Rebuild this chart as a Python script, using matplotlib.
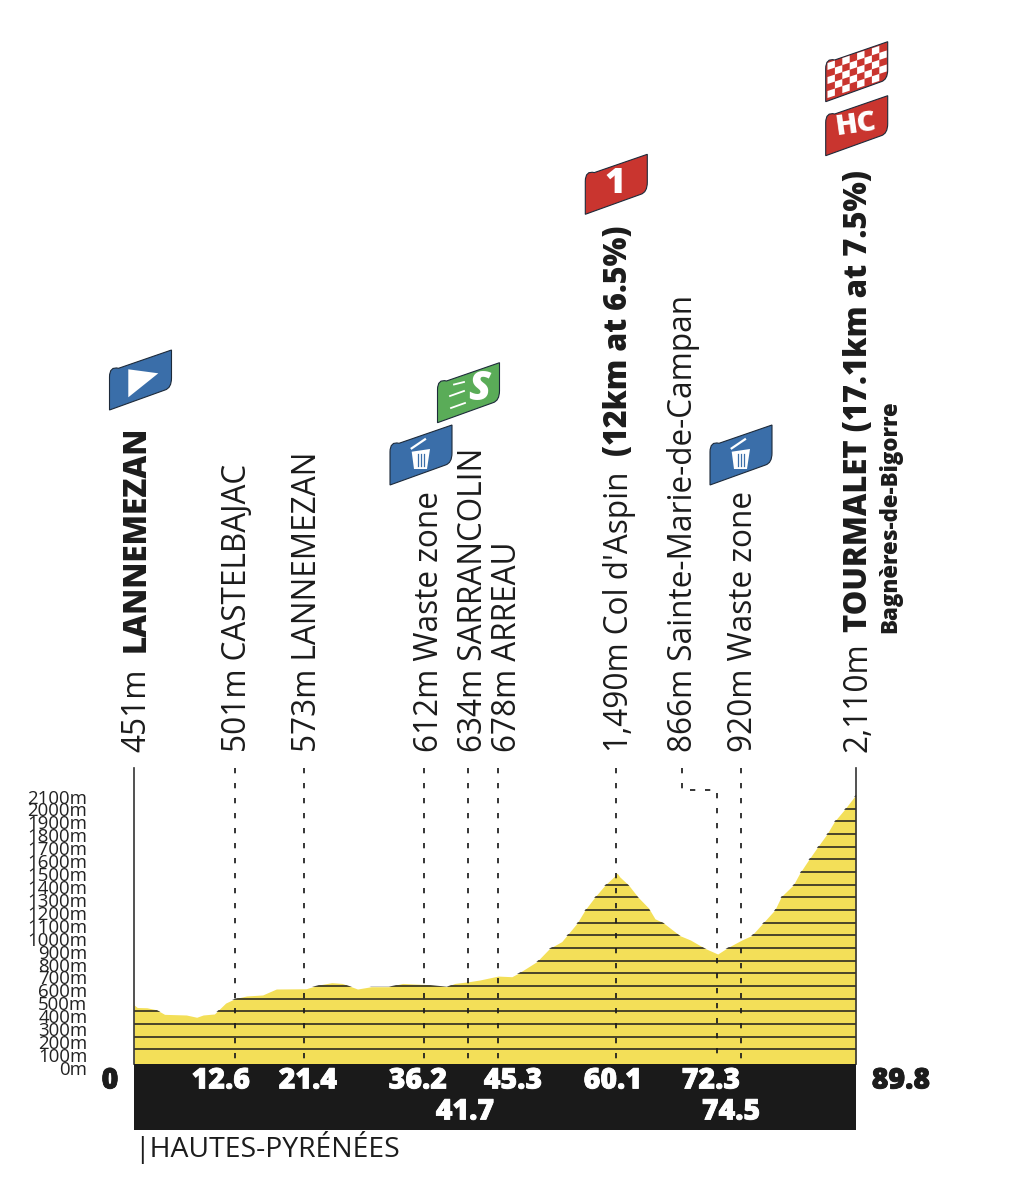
import matplotlib
matplotlib.use("Agg")
import matplotlib.pyplot as plt
import matplotlib.patheffects as pe
from matplotlib.patches import PathPatch, Polygon, Rectangle
from matplotlib.path import Path

plt.rcParams['font.family'] = ['Open Sans', 'DejaVu Sans']
plt.rcParams['lines.scale_dashes'] = False

# ---------- data ----------
profile_km = [0, 0.4, 1.6, 2.8, 3.8, 6.5, 7.8, 8.6, 10, 11.4, 12.6, 14, 16, 17.7, 21.4, 23, 24.6, 25.9,
              27.8, 29.5, 31.7, 33.4, 35, 36.2, 38.9, 39.9, 41.7, 43, 45.3, 47, 47.8, 50.1, 51.7,
              53.2, 55.1, 56.1, 57.3, 58.6, 59.8, 60.1, 60.4, 61.5, 62.7, 64, 64.8, 65.8, 67.9,
              69.2, 71, 72.6, 73.9, 75.6, 76.8, 78.2, 79.7, 80.5, 82, 82.8, 83.9, 85, 86.2, 87.1,
              88.4, 89.8]
profile_m = [451, 430, 428, 412, 376, 371, 353, 371, 379, 465, 501, 521, 529, 576, 578, 608, 626, 620,
             576, 594, 594, 620, 615, 612, 594, 620, 634, 647, 678, 673, 700, 792, 897,
             950, 1095, 1200, 1300, 1397, 1468, 1490, 1462, 1397, 1300, 1215, 1130, 1100, 997,
             963, 897, 852, 905, 963, 997, 1095, 1200, 1305, 1397, 1490, 1595, 1695, 1800, 1897,
             1995, 2110]
levels = list(range(100, 2200, 100))
tick_levels = list(range(0, 2200, 100))
tick_labels = [f"{v}m" for v in tick_levels]

dash_km = [12.6, 21.1, 36.1, 41.6, 45.3, 60.0, 75.5]
leader_km = [68.2, 68.2, 72.5, 72.5]
leader_m = [2320, 2147, 2147, 30]

km_top = ["12.6", "21.4", "36.2", "45.3", "60.1", "72.3"]
km_top_x = [221, 308, 418, 513, 613, 711]
km_low = ["41.7", "74.5"]
km_low_x = [465, 731]

regular_labels = ["451m", "501m CASTELBAJAC", "573m LANNEMEZAN", "612m Waste zone", "634m SARRANCOLIN",
                  "678m ARREAU", "1,490m Col d'Aspin", "866m Sainte-Marie-de-Campan",
                  "920m Waste zone", "2,110m"]
regular_x = [137, 238, 307, 429, 473, 508, 619, 684, 743, 858]
bold_labels = ["LANNEMEZAN", "(12km at 6.5%)", "TOURMALET (17.1km at 7.5%)"]
bold_x = [137, 619, 859]
bold_y = [652, 456, 632]

# ---------- colours ----------
INK, YELLOW, BAR = "#1c1c1c", "#f3df58", "#1a1a1a"
BLUE, GREEN, RED = "#3a6ea9", "#5aac58", "#c9352f"

W, H = 1014, 1188
fig = plt.figure(figsize=(W / 100, H / 100), dpi=100)

# elevation axes: x = km, y = metres
ax = fig.add_axes([134 / W, 1 - 1064 / H, 722 / W, 296 / H])
ax.set_xlim(0, 89.8)
ax.set_ylim(-15.8, 2320)
ax.set_xticks([]); ax.set_yticks([])
for s in ("top", "bottom"):
    ax.spines[s].set_visible(False)
for s in ("left", "right"):
    ax.spines[s].set_color("#333333")
    ax.spines[s].set_linewidth(1.2)
ax.fill_between(profile_km, -15.8, profile_m, color=YELLOW, lw=0, zorder=1)
poly = Polygon(list(zip([0] + profile_km + [89.8], [-15.8] + profile_m + [-15.8])),
               closed=True, transform=ax.transData, fc="none", ec="none")
ax.add_patch(poly)
for lv in levels:
    l, = ax.plot([0, 89.8], [lv, lv], color=INK, lw=1.1, zorder=2)
    l.set_clip_path(poly)
dash = (0, (3.8, 7.0))
for k in dash_km:
    ax.plot([k, k], [2320, 20], color=INK, lw=1.25, ls=dash, zorder=3)
ax.plot(leader_km, leader_m, color=INK, lw=1.25, ls=dash, zorder=3)

# tick label axes
ax2 = fig.add_axes([134 / W, 1 - 1068 / H, 722 / W, 271.5 / H], frameon=False)
ax2.set_ylim(0, 2100)
ax2.set_xticks([])
ax2.set_yticks(tick_levels)
ax2.set_yticklabels(tick_labels, fontsize=13.4, color="#222222")
ax2.tick_params(axis="y", length=0, pad=33.5)
ax2.patch.set_alpha(0)

# overlay in pixels for annotation furniture
ov = fig.add_axes([0, 0, 1, 1], frameon=False)
ov.set_xlim(0, W); ov.set_ylim(H, 0); ov.axis("off")
ov.add_patch(Rectangle((134, 1064), 722, 66, fc=BAR, ec="none"))

BIG = 20.5
def heavy(col):
    return [pe.withStroke(linewidth=0.6, foreground=col)]
for s, x in zip(km_top, km_top_x):
    ov.text(x, 1081, s, color="white", fontsize=BIG, fontweight=800, ha="center", va="center",
            path_effects=heavy("white"))
for s, x in zip(km_low, km_low_x):
    ov.text(x, 1112, s, color="white", fontsize=BIG, fontweight=800, ha="center", va="center",
            path_effects=heavy("white"))
ov.text(110, 1081, "0", color=INK, fontsize=BIG, fontweight=800, ha="center", va="center",
        path_effects=heavy(INK))
ov.text(901, 1081, "89.8", color=INK, fontsize=BIG, fontweight=800, ha="center", va="center",
        path_effects=heavy(INK))
ov.text(134.5, 1147, "|HAUTES-PYRÉNÉES", color=INK, fontsize=20.4, ha="left", va="center")

FS = 22.7
for s, x in zip(regular_labels, regular_x):
    ov.text(x, 752, s, rotation=90, color=INK, fontsize=FS, ha="center", va="bottom")
for s, x, y, fs in zip(bold_labels, bold_x, bold_y, [22.7, 22.0, 22.3]):
    ov.text(x, y, s, rotation=90, color=INK, fontsize=fs, fontweight=800, ha="center", va="bottom")
ov.text(890, 633, "Bagnères-de-Bigorre", rotation=90, color=INK, fontsize=16, fontweight=800,
        ha="center", va="bottom")


def badge(x, y, color):
    w = 62
    v = [(x, y), (x, y - 33), (x, y - 44), (x + 9, y - 41.7), (x + w, y - 60),
         (x + w, y - 32), (x + w, y - 22), (x + w - 6.5, y - 20), (x, y)]
    c = [Path.MOVETO, Path.LINETO, Path.CURVE3, Path.CURVE3, Path.LINETO,
         Path.LINETO, Path.CURVE3, Path.CURVE3, Path.CLOSEPOLY]
    p = PathPatch(Path(v, c), fc=color, ec="#1d2a3a", lw=0.8, zorder=5)
    ov.add_patch(p)
    return p


def bin_icon(x, y):
    ov.add_patch(Polygon([(x + 21.7, y - 33.3), (x + 40, y - 36), (x + 37, y - 16), (x + 24, y - 16)],
                         fc="white", ec="none", zorder=6))
    for d in (27.5, 30.7, 33.8):
        ov.plot([x + d, x + d], [y - 31, y - 19], color=BLUE, lw=0.9, zorder=7)
    ov.plot([x + 21.7, x + 35], [y - 36.7, y - 45.7], color="white", lw=1.6, zorder=7)


badge(109.5, 410, BLUE)
ov.add_patch(Polygon([(128.3, 397.3), (128.3, 369.3), (158.3, 373.3)], fc="white", ec="none", zorder=6))
badge(390, 485, BLUE); bin_icon(390, 485)
badge(710, 485, BLUE); bin_icon(710, 485)
badge(437.5, 422.7, GREEN)
for (a, b) in [((454, 384.5), (464, 382)), ((450, 396), (464, 391)), ((451, 408), (465, 403))]:
    ov.plot([a[0], b[0]], [a[1], b[1]], color="white", lw=1.3, zorder=6)
ov.text(479, 389, "S", color="white", fontsize=29, fontweight=800, style="italic",
        ha="center", va="center", zorder=6)
badge(585.3, 214.3, RED)
ov.text(615, 184, "1", color="white", fontsize=26, fontweight=800, ha="center", va="center", zorder=6)
badge(825.7, 155.7, RED)
ov.text(856, 125, "HC", color="white", fontsize=21, fontweight=800, rotation=8,
        ha="center", va="center", zorder=6)

chk = badge(825.7, 101.7, RED)
sq_w, sq_h = 7.4, 7.0
for i in range(8):
    for j in range(5):
        if (i + j) % 2 == 0:
            x0 = 827.5 + i * sq_w
            y0 = 98 - 0.33 * (i * sq_w) - j * sq_h
            r = Polygon([(x0, y0), (x0 + sq_w, y0 - 0.33 * sq_w), (x0 + sq_w, y0 - 0.33 * sq_w - sq_h),
                         (x0, y0 - sq_h)], fc="white", ec="none", zorder=6)
            ov.add_patch(r)
            r.set_clip_path(chk)

fig.savefig("out.png", dpi=100)
